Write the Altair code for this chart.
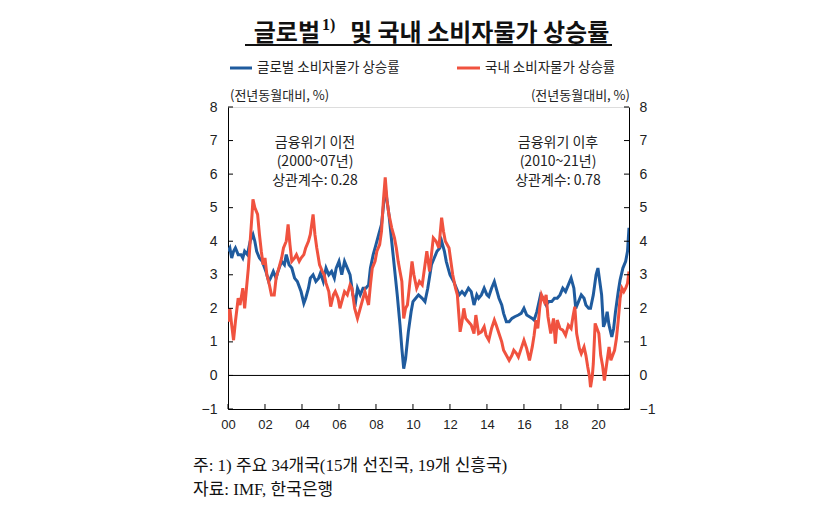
import altair as alt
import pandas as pd

# ---- data ----
global_t = [2000.0, 2000.1, 2000.2, 2000.3, 2000.4, 2000.55, 2000.7, 2000.8, 2000.9, 2001.05,
            2001.2, 2001.35, 2001.45, 2001.55, 2001.7, 2001.85, 2002.05, 2002.2, 2002.3, 2002.45,
            2002.6, 2002.7, 2002.9, 2003.05, 2003.15, 2003.3, 2003.45, 2003.6, 2003.75, 2003.95,
            2004.1, 2004.2, 2004.35, 2004.45, 2004.6, 2004.75, 2004.9, 2005.0, 2005.15, 2005.3,
            2005.45, 2005.6, 2005.75, 2005.85, 2006.0, 2006.15, 2006.3, 2006.45, 2006.6, 2006.75,
            2006.9, 2007.0, 2007.15, 2007.3, 2007.45, 2007.6, 2007.7, 2007.85, 2008.0, 2008.15,
            2008.3, 2008.45, 2008.55, 2008.7, 2008.85, 2009.0, 2009.15, 2009.3, 2009.4, 2009.5,
            2009.6, 2009.75, 2009.9, 2010.0, 2010.15, 2010.3, 2010.5, 2010.65, 2010.8, 2011.0,
            2011.15, 2011.3, 2011.45, 2011.55, 2011.7, 2011.8, 2012.0, 2012.2, 2012.35, 2012.5,
            2012.65, 2012.8, 2013.0, 2013.15, 2013.3, 2013.45, 2013.55, 2013.7, 2013.85, 2014.0,
            2014.1, 2014.25, 2014.4, 2014.55, 2014.65, 2014.8, 2014.9, 2015.05, 2015.2, 2015.35,
            2015.5, 2015.7, 2015.85, 2016.0, 2016.15, 2016.3, 2016.45, 2016.55, 2016.7, 2016.9,
            2017.05, 2017.2, 2017.35, 2017.5, 2017.65, 2017.8, 2017.95, 2018.1, 2018.25, 2018.4,
            2018.55, 2018.7, 2018.8, 2018.95, 2019.1, 2019.25, 2019.35, 2019.5, 2019.6, 2019.75,
            2019.9, 2020.0, 2020.1, 2020.2, 2020.3, 2020.4, 2020.5, 2020.6, 2020.75, 2020.85,
            2020.95, 2021.1, 2021.2, 2021.35, 2021.5, 2021.6, 2021.68]
global_v = [3.7, 3.8, 3.5, 3.7, 3.8, 3.6, 3.6, 3.5, 3.7, 3.6,
            4.0, 4.2, 4.0, 3.7, 3.5, 3.4, 3.1, 2.8, 2.9, 3.1,
            2.9, 3.1, 3.4, 3.3, 3.6, 3.3, 3.2, 2.9, 2.8, 2.5,
            2.15, 2.3, 2.6, 2.9, 3.0, 2.8, 2.9, 3.05, 2.8, 3.2,
            3.0, 3.1, 2.9, 3.2, 3.4, 3.0, 3.4, 3.2, 3.0, 2.4,
            2.2, 2.6, 2.4, 2.6, 2.6, 2.7, 3.2, 3.6, 3.9, 4.2,
            4.5, 5.3, 5.4, 4.8, 4.0, 3.2, 2.4, 1.5, 0.8, 0.2,
            0.5, 1.3, 1.9, 2.2, 2.3, 2.4, 2.3, 2.2, 2.6, 3.3,
            3.5, 3.7, 3.8, 4.0, 3.7, 3.4, 3.0, 2.8, 2.6, 2.4,
            2.5, 2.4, 2.6, 2.5, 2.1, 2.4, 2.3, 2.4, 2.6, 2.4,
            2.35, 2.6, 2.8, 2.5, 2.3, 2.1, 1.85, 1.6, 1.6, 1.7,
            1.75, 1.8, 1.85, 2.0, 1.8, 1.75, 1.7, 1.65, 1.9, 2.4,
            2.3, 2.1, 2.2, 2.2, 2.3, 2.3, 2.4, 2.6, 2.5, 2.7,
            2.9, 2.6, 2.0, 2.2, 2.4, 2.3, 2.1, 2.0, 2.0, 2.4,
            3.0, 3.2, 2.8, 2.4, 1.45, 1.6, 1.9, 1.5, 1.15, 1.4,
            1.9, 2.5, 2.85, 3.2, 3.4, 3.7, 4.4]

korea_t = [2000.0, 2000.05, 2000.1, 2000.2, 2000.3, 2000.4, 2000.55, 2000.65, 2000.8, 2000.9,
           2001.0, 2001.1, 2001.2, 2001.3, 2001.35, 2001.45, 2001.6, 2001.7, 2001.8, 2001.9,
           2002.0, 2002.1, 2002.2, 2002.35, 2002.5, 2002.6, 2002.75, 2002.9, 2003.0, 2003.15,
           2003.25, 2003.35, 2003.45, 2003.6, 2003.7, 2003.85, 2003.95, 2004.1, 2004.2, 2004.35,
           2004.45, 2004.6, 2004.7, 2004.8, 2004.95, 2005.1, 2005.2, 2005.3, 2005.45, 2005.55,
           2005.7, 2005.8, 2005.95, 2006.05, 2006.2, 2006.3, 2006.45, 2006.6, 2006.7, 2006.85,
           2007.0, 2007.15, 2007.25, 2007.4, 2007.5, 2007.6, 2007.7, 2007.8, 2007.95, 2008.05,
           2008.2, 2008.3, 2008.4, 2008.5, 2008.6, 2008.7, 2008.85, 2009.0, 2009.1, 2009.2,
           2009.3, 2009.4, 2009.5, 2009.6, 2009.7, 2009.8, 2009.95, 2010.05, 2010.2, 2010.35,
           2010.5, 2010.65, 2010.75, 2010.9, 2011.0, 2011.1, 2011.25, 2011.4, 2011.5, 2011.55,
           2011.65, 2011.75, 2011.95, 2012.05, 2012.15, 2012.3, 2012.4, 2012.55, 2012.65, 2012.75,
           2012.85, 2013.0, 2013.15, 2013.3, 2013.4, 2013.55, 2013.7, 2013.85, 2013.95, 2014.1,
           2014.25, 2014.4, 2014.5, 2014.65, 2014.8, 2014.9, 2015.05, 2015.2, 2015.35, 2015.45,
           2015.6, 2015.7, 2015.85, 2016.0, 2016.15, 2016.3, 2016.45, 2016.55, 2016.65, 2016.75,
           2016.85, 2016.95, 2017.1, 2017.2, 2017.3, 2017.45, 2017.6, 2017.7, 2017.8, 2017.95,
           2018.1, 2018.25, 2018.4, 2018.55, 2018.65, 2018.75, 2018.85, 2019.0, 2019.1, 2019.25,
           2019.35, 2019.45, 2019.55, 2019.6, 2019.7, 2019.75, 2019.85, 2019.95, 2020.05, 2020.15,
           2020.25, 2020.35, 2020.45, 2020.6, 2020.7, 2020.8, 2020.9, 2021.0, 2021.1, 2021.2,
           2021.3, 2021.4, 2021.5, 2021.6, 2021.68]
korea_v = [2.0, 1.6, 2.0, 1.5, 1.05, 1.6, 2.3, 2.1, 2.6, 2.0,
           2.6, 3.2, 4.0, 4.8, 5.25, 5.0, 4.8, 4.2, 3.7, 3.3,
           3.5, 3.0, 2.8, 2.4, 2.4, 2.9, 3.2, 3.5, 3.8, 4.0,
           4.5, 3.9, 3.4, 3.5, 3.6, 3.4, 3.5, 3.6, 3.8, 4.0,
           4.2, 4.8, 4.2, 3.8, 3.3, 3.1, 3.0, 2.75, 2.5, 2.05,
           2.4, 2.5, 2.3, 2.0, 2.3, 2.5, 2.4, 2.7, 2.6, 2.0,
           1.7, 2.0, 2.2, 2.5, 2.3, 2.1, 2.7, 3.2, 3.4, 3.7,
           3.9, 4.3, 5.2, 5.9, 5.2, 4.8, 4.4, 4.1, 3.8, 3.4,
           3.1, 2.8, 1.7, 2.0, 2.1, 2.6, 3.4, 3.0, 2.6, 2.8,
           2.7, 3.3, 3.7, 3.1, 3.6, 4.1, 4.0, 3.8, 4.4, 4.7,
           4.3, 4.0, 3.8, 3.4, 3.0, 2.6, 2.4, 1.3, 1.6, 2.0,
           1.7, 1.6, 1.5, 1.25, 1.8, 1.25, 1.3, 1.45, 1.2, 1.05,
           1.4, 1.65, 1.5, 1.25, 1.0, 0.75, 0.6, 0.45, 0.6, 0.75,
           0.65, 0.55, 0.8, 1.05, 0.8, 0.45, 0.85, 1.2, 1.65, 1.4,
           2.0, 2.4, 2.2, 2.4, 1.75, 1.25, 1.7, 0.95, 1.65, 1.4,
           1.35, 1.2, 1.5, 1.4, 1.75, 2.05, 1.25, 0.8, 0.65, 0.85,
           0.6, 0.25, -0.05, -0.35, 0.0, 0.35, 1.55, 1.4, 1.25, 0.6,
           0.3, -0.15, 0.25, 0.85, 0.45, 0.6, 0.75, 1.1, 1.65, 2.3,
           2.6, 2.5, 2.6, 2.75, 3.1]

series_names = ["글로벌 소비자물가 상승률", "국내 소비자물가 상승률"]
series_colors = ["#1f5b9e", "#f0523f"]
y_ticks = [-1, 0, 1, 2, 3, 4, 5, 6, 7, 8]
x_ticks = [2000, 2002, 2004, 2006, 2008, 2010, 2012, 2014, 2016, 2018, 2020]
x_domain = [2000.0, 2021.68]
y_domain = [-1, 8]

W, H = 401, 302
KFONT = "Noto Sans CJK KR"
NFONT = "Liberation Sans"

df = pd.concat([
    pd.DataFrame({"t": global_t, "v": global_v, "s": series_names[0]}),
    pd.DataFrame({"t": korea_t, "v": korea_v, "s": series_names[1]}),
])
yt = pd.DataFrame({"v": y_ticks})
xt = pd.DataFrame({"t": x_ticks})

xs = alt.Scale(domain=x_domain, nice=False, zero=False)
ys = alt.Scale(domain=y_domain, nice=False, zero=False)

x_axis = alt.Axis(values=x_ticks, labelExpr="slice(toString(datum.value), 2)",
                  ticks=False, grid=False, title=None, domainColor="black", labelFlush=False,
                  labelFont=NFONT, labelFontSize=13, labelColor="#222", labelPadding=9)

lines = alt.Chart(df).mark_line(strokeWidth=3, clip=True).encode(
    x=alt.X("t:Q", scale=xs, axis=x_axis),
    y=alt.Y("v:Q", scale=ys, axis=alt.Axis(values=y_ticks, orient="left", ticks=False, grid=False,
                                          title=None, domainColor="black", labelFont=NFONT,
                                          labelFontSize=14, labelColor="#222", labelPadding=11)),
    color=alt.Color("s:N", scale=alt.Scale(domain=series_names, range=series_colors), legend=None),
)

right_axis = alt.Chart(yt).mark_point(opacity=0).encode(
    y=alt.Y("v:Q", scale=ys, axis=alt.Axis(values=y_ticks, orient="right", ticks=False, grid=False,
                                          title=None, domainColor="black", labelFont=NFONT,
                                          labelFontSize=14, labelColor="#222", labelPadding=10)),
    x=alt.value(W),
)

zero = alt.Chart(pd.DataFrame({"v": [0]})).mark_rule(color="black", strokeWidth=1).encode(
    y=alt.Y("v:Q", scale=ys, axis=None))

lt = alt.Chart(yt).mark_rule(color="black").encode(
    y=alt.Y("v:Q", scale=ys, axis=None), x=alt.value(0), x2=alt.value(5))
rt = alt.Chart(yt).mark_rule(color="black").encode(
    y=alt.Y("v:Q", scale=ys, axis=None), x=alt.value(W - 5), x2=alt.value(W))
bt = alt.Chart(xt).mark_rule(color="black").encode(
    x=alt.X("t:Q", scale=xs, axis=x_axis), y=alt.value(H), y2=alt.value(H - 5))


def txt(s, x, y, size=14, font=KFONT, align="left", weight="normal", color="#222", baseline="middle"):
    return alt.Chart(pd.DataFrame({"a": [0]})).mark_text(
        text=s, font=font, fontSize=size, align=align, baseline=baseline, fontWeight=weight, color=color
    ).encode(x=alt.value(x), y=alt.value(y))


def seg(x1, x2, y, color, w):
    return alt.Chart(pd.DataFrame({"a": [0]})).mark_rule(color=color, strokeWidth=w).encode(
        x=alt.value(x1), x2=alt.value(x2), y=alt.value(y))


texts = [
    txt("글로벌", 92, -66, size=24, weight="bold", align="right", baseline="alphabetic", color="#111"),
    txt("1)", 94, -77, size=16, font="Liberation Serif", weight="bold", baseline="alphabetic", color="#111"),
    txt("및 국내 소비자물가 상승률", 122, -66, size=24, weight="bold", baseline="alphabetic", color="#111"),
    seg(17, 384, -62, "#111", 2),
    seg(2, 24, -39, series_colors[0], 3),
    txt(series_names[0], 29, -39, size=13.5),
    seg(229, 252, -39, series_colors[1], 3),
    txt(series_names[1], 257, -39, size=13.5),
    txt("(전년동월대비, %)", 2, -11, size=13),
    txt("(전년동월대비, %)", 402, -11, size=13, align="right"),
    txt("금융위기 이전", 87, 36, align="center"),
    txt("(2000~07년)", 87, 55, align="center"),
    txt("상관계수: 0.28", 87, 74, align="center"),
    txt("금융위기 이후", 330, 36, align="center"),
    txt("(2010~21년)", 330, 55, align="center"),
    txt("상관계수: 0.78", 330, 74, align="center"),
    txt("주: 1) 주요 34개국(15개 선진국, 19개 신흥국)", -35, 359, size=17, font="Liberation Serif, " + KFONT, color="#111"),
    txt("자료: IMF, 한국은행", -35, 383, size=17, font="Liberation Serif, " + KFONT, color="#111"),
]

chart = alt.layer(zero, lines, right_axis, lt, rt, bt, *texts).resolve_axis(y="independent").properties(
    width=W, height=H, autosize=alt.AutoSizeParams(type="none"),
    padding={"left": 220, "top": 99, "right": 190, "bottom": 112},
).configure_view(stroke=None).configure(background="white")

chart.save("out.html", embed_options={"renderer": "svg", "actions": False})
